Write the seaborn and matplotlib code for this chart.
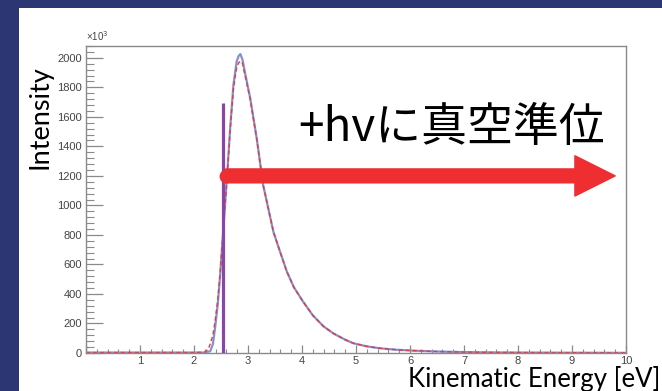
import matplotlib
matplotlib.use("Agg")
import matplotlib.pyplot as plt
import seaborn as sns
import pandas as pd
from matplotlib.patches import Rectangle
from matplotlib.ticker import MultipleLocator

# ---- data ----
energy_blue = [0, 0.5, 1.0, 1.5, 2.0, 2.2, 2.3, 2.35, 2.39, 2.44, 2.48, 2.54, 2.61, 2.67, 2.73,
               2.79, 2.83, 2.86, 2.90, 2.94, 3.04, 3.16, 3.28, 3.47, 3.59, 3.72, 3.85, 4.02,
               4.2, 4.4, 4.58, 4.8, 4.95, 5.2, 5.44, 5.75, 6.06, 6.5, 7.0, 7.5, 8.0, 9.0, 10.0]
intensity_blue = [3, 3, 3, 3, 3, 3, 12, 60, 169, 330, 508, 822, 1186, 1525, 1817,
                  1975, 2015, 2025, 1985, 1907, 1729, 1458, 1139, 822, 690, 551, 445, 348,
                  255, 180, 133, 90, 66, 45, 32, 22, 16, 10, 6, 4, 3, 2, 1]
energy_red = [0, 0.5, 1.0, 1.5, 2.0, 2.2, 2.26, 2.3, 2.35, 2.39, 2.44, 2.48, 2.54, 2.61, 2.67,
              2.73, 2.79, 2.83, 2.87, 2.90, 2.94, 3.04, 3.16, 3.28, 3.47, 3.59, 3.72, 3.85,
              4.02, 4.2, 4.4, 4.58, 4.8, 4.95, 5.2, 5.44, 5.75, 6.06, 6.5, 7.0, 7.5, 8.0, 9.0, 10.0]
intensity_red = [3, 3, 3, 3, 3, 6, 25, 60, 122, 215, 360, 520, 830, 1180, 1510,
                 1790, 1935, 1968, 1978, 1960, 1890, 1720, 1455, 1139, 822, 690, 551, 445,
                 348, 255, 180, 133, 90, 66, 45, 32, 22, 16, 10, 6, 4, 3, 2, 1]
vacuum_level_x = 2.54
vacuum_level_top = 1695
arrow_y = 1200
arrow_x_start = 2.59
arrow_x_end = 9.8

x_ticks = list(range(0, 11))
x_tick_labels = [""] + [str(v) for v in range(1, 11)]
y_ticks = list(range(0, 2001, 200))
y_tick_labels = [str(v) for v in y_ticks]

df_blue = pd.DataFrame({"energy": energy_blue, "intensity": intensity_blue})
df_red = pd.DataFrame({"energy": energy_red, "intensity": intensity_red})

sns.set_style("white")
plt.rcParams["font.family"] = ["Liberation Sans", "DejaVu Sans"]

fig = plt.figure(figsize=(6.62, 3.91), dpi=100)
fig.patch.set_facecolor("#2c3672")
fig.patches.append(Rectangle((19 / 662, 0), 1 - 19 / 662, 1 - 8 / 391,
                             transform=fig.transFigure, facecolor="white",
                             edgecolor="none", zorder=-10))

ax = fig.add_axes([86 / 662, 38 / 391, 540 / 662, 307 / 391])
ax.set_zorder(1)
ax.set_facecolor("white")

sns.lineplot(data=df_blue, x="energy", y="intensity", ax=ax, color="#8391d2",
             linewidth=1.6, estimator=None, sort=False)
sns.lineplot(data=df_red, x="energy", y="intensity", ax=ax, color="#e23c3c",
             linewidth=1.0, estimator=None, sort=False)
ax.lines[-1].set_dashes((3, 2))

ax.plot([vacuum_level_x, vacuum_level_x], [0, vacuum_level_top], color="#8b45a8",
        linewidth=2.3, solid_capstyle="butt", zorder=5)

# red arrow
ax.annotate("", xy=(arrow_x_end, arrow_y), xytext=(arrow_x_start, arrow_y),
            arrowprops=dict(arrowstyle="simple,head_width=1.45,head_length=1.45,tail_width=0.5",
                            mutation_scale=20, color="#ee2e31", shrinkA=0, shrinkB=0),
            zorder=6)
ax.plot([arrow_x_start], [arrow_y], marker="o", markersize=10, color="#ee2e31",
        markeredgewidth=0, zorder=6)

ax.set_xlim(0, 10)
ax.set_ylim(0, 2080)
ax.set_xticks(x_ticks)
ax.set_xticklabels(x_tick_labels)
ax.set_yticks(y_ticks)
ax.set_yticklabels(y_tick_labels)
ax.xaxis.set_minor_locator(MultipleLocator(0.2))
ax.yaxis.set_minor_locator(MultipleLocator(40))
ax.tick_params(axis="x", which="major", direction="in", length=6, width=0.9,
               color="#8a8a8a", labelsize=8, labelcolor="#444444", pad=2, bottom=True)
ax.tick_params(axis="x", which="minor", direction="in", length=3, width=0.8,
               color="#8a8a8a", bottom=True)
ax.tick_params(axis="y", which="major", direction="in", length=12, width=0.9,
               color="#8a8a8a", labelsize=8, labelcolor="#444444", pad=3, left=True)
ax.tick_params(axis="y", which="minor", direction="in", length=6, width=0.8,
               color="#8a8a8a", left=True)
for s in ax.spines.values():
    s.set_color("#8a8a8a")
    s.set_linewidth(1.0)
ax.set_xlabel("")
ax.set_ylabel("")

ax.text(0.0, 1.01, "×10$^3$", transform=ax.transAxes, fontsize=7, color="#444444",
        ha="left", va="bottom")

fig.text(40 / 662, 1 - 117 / 391, "Intensity", rotation=90, ha="center", va="center",
         fontsize=19.5, family=["Lato", "DejaVu Sans"], color="black")
fig.text(660 / 662, 1 - 387 / 391, "Kinematic Energy [eV]", ha="right", va="baseline",
         fontsize=18.5, family=["Lato", "DejaVu Sans"], color="black", zorder=10)
fig.text(452 / 662, 1 - 128 / 391, "+hvに真空準位", ha="center", va="center",
         fontsize=33, family=["Noto Sans CJK JP", "DejaVu Sans"], color="black", zorder=10)

fig.savefig("out.png", dpi=100, facecolor=fig.get_facecolor())
